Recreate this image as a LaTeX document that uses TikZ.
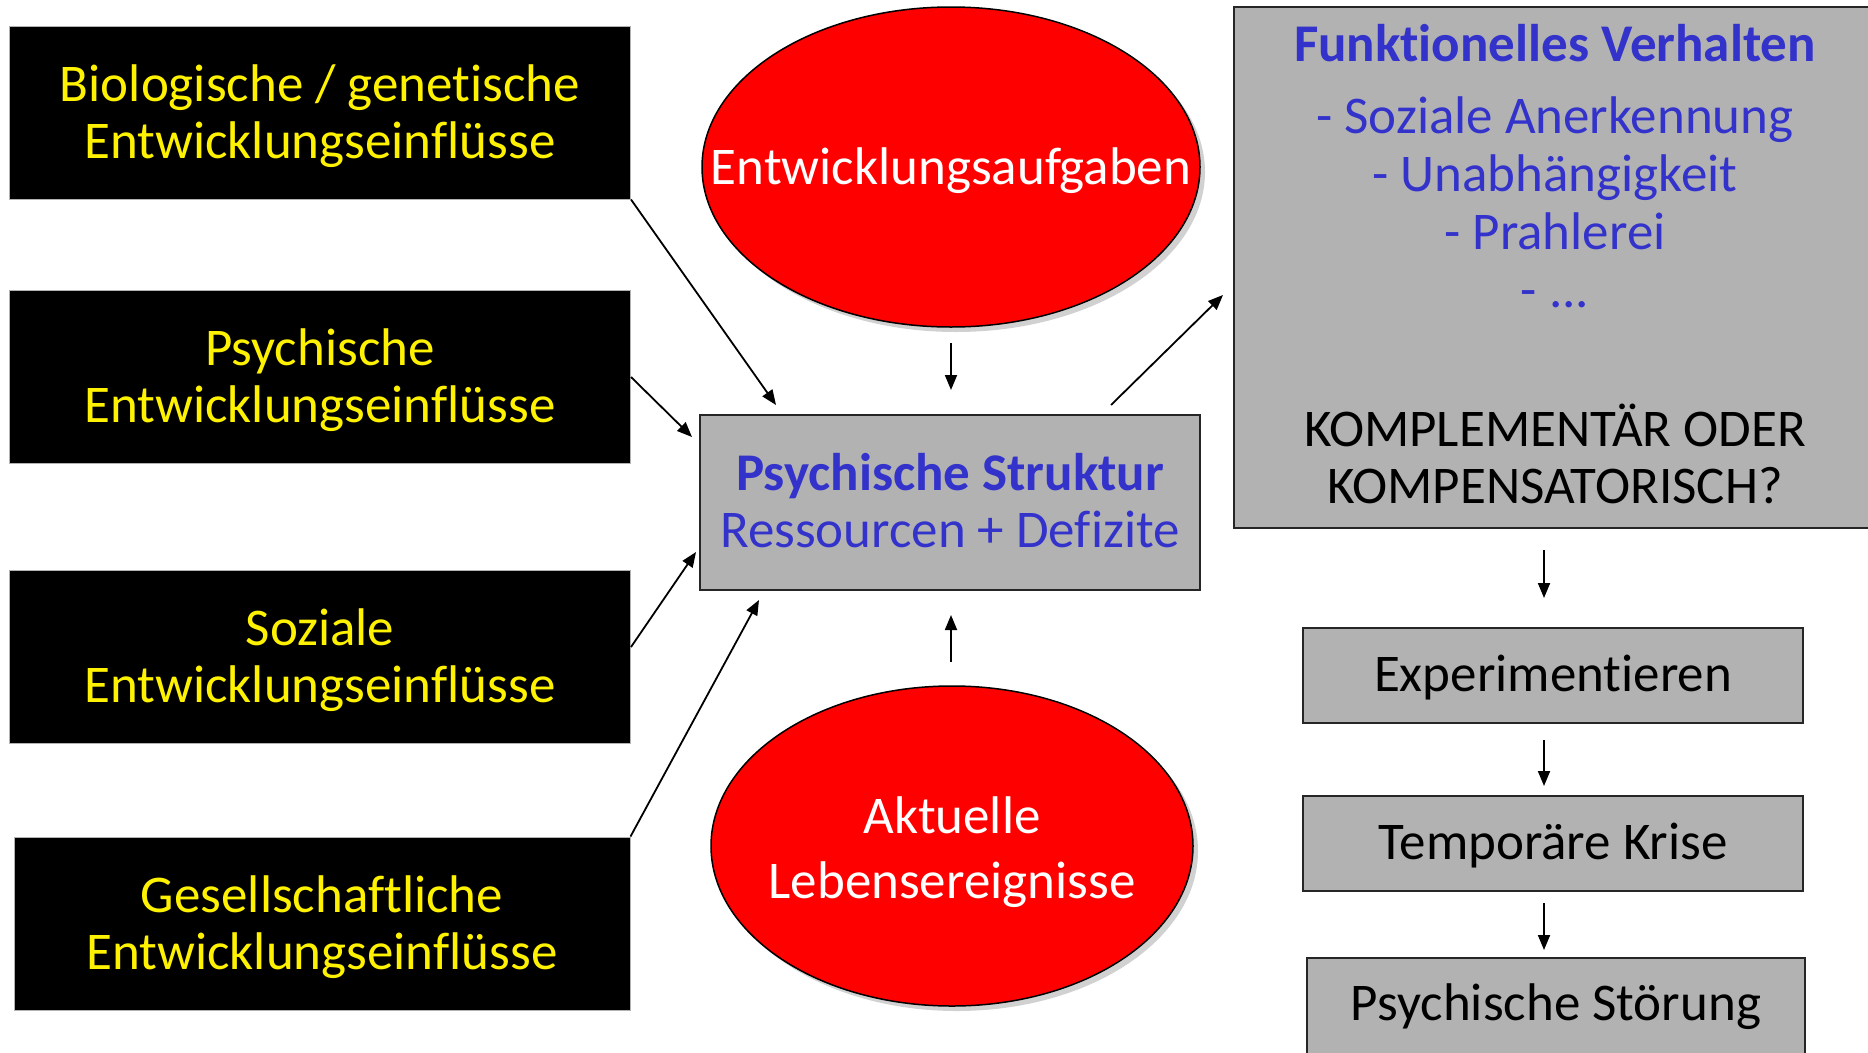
\documentclass[tikz,border=0pt]{standalone}
\usepackage{fontspec}
\setmainfont{Carlito}[Ligatures=NoCommon]
\usetikzlibrary{shapes.geometric,arrows.meta,shadows}
\definecolor{boxgray}{RGB}{178,178,178}
\definecolor{txtblue}{RGB}{51,51,204}
\newcommand{\nl}{\kern0pt }
\begin{document}
\begin{tikzpicture}[x=1pt,y=-1pt,
  infl/.style={draw=gray!60, line width=1pt, fill=black, minimum width=621pt, minimum height=173pt, inner sep=0pt},
  infltext/.style={text=yellow, align=center, inner sep=0pt, font=\fontsize{53}{57}\selectfont},
  ell/.style={ellipse, draw=black, line width=1.5pt, fill=red, inner sep=0pt, drop shadow={shadow xshift=5pt, shadow yshift=-5pt, fill=black!18, opacity=1}},
  elltext/.style={text=white, align=center, inner sep=0pt},
  gbox/.style={draw=black!85, line width=2pt, fill=boxgray, inner sep=0pt},
  gtext/.style={align=center, inner sep=0pt, font=\fontsize{53}{57}\selectfont},
  arr/.style={line width=1.8pt, -{Triangle[length=15pt,width=12pt]}},
]
\useasboundingbox (0,0) rectangle (1868,1052);

% left influence boxes
\node[infl] (b1) at (320,112.5) {};
\node[infl] (b2) at (320,377) {};
\node[infl] (b3) at (320,657) {};
\node[infl, minimum width=616pt] (b4) at (322,923.5) {};
\node[infltext] (b1t) at ([yshift=-3.5pt]b1.center) {Biologische / genetische\\Entwicklungseinflüsse};
\node[infltext] (b2t) at ([yshift=-3.5pt]b2.center) {Psychische\\Entwicklungseinflüsse};
\node[infltext] (b3t) at ([yshift=-3.5pt]b3.center) {Soziale\\Entwicklungseinflüsse};
\node[infltext] (b4t) at ([yshift=-3.5pt]b4.center) {Gesellschaftliche\\Entwicklungseinflüsse};

% ellipses
\node[ell, minimum width=498pt, minimum height=320pt] (e1) at (951,167) {};
\node[ell, minimum width=482pt, minimum height=320pt] (e2) at (952,846) {};
\node[elltext, font=\fontsize{53}{57}\selectfont] (e1t) at ([yshift=-3.5pt]e1.center) {Entwicklungsaufgaben};
\node[elltext, font=\fontsize{53}{65}\selectfont] (e2t) at ([yshift=-6pt]e2.center) {Aktuelle\\Lebensereignisse};

% central box
\node[gbox, minimum width=500pt, minimum height=175pt] (ps) at (950,502.5) {};
\node[gtext, text=txtblue] (pst) at ([yshift=2.4pt]ps.center) {\textbf{Psychische Struktur}\\Ressourcen + Defizite};

% right big box
\node[gbox, minimum width=642pt, minimum height=521pt] (fv) at (1555,267.5) {};
\node[text=txtblue, inner sep=0pt, font=\bfseries\fontsize{53}{57}\selectfont] (fvt) at (1555,43.5) {Funkt\nl ionelles Verhalten};
\node[text=txtblue, inner sep=0pt, align=center, font=\fontsize{53}{58}\selectfont] (fvl) at (1555,202.5) {- Soziale Anerkennung\\- Unabhängigkeit\\- Prahlerei\\- ...};
\node[gtext] (fvq) at (1555,454) {KOMPLEMENTÄR ODER\\KOMPENSATORISCH?};

% right chain
\node[gbox, minimum width=500pt, minimum height=95pt] (ex) at (1553,675.5) {};
\node[gbox, minimum width=500pt, minimum height=95pt] (tk) at (1553,843.5) {};
\node[gbox, minimum width=498pt, minimum height=96pt] (st) at (1556,1006) {};
\node[gtext] (ext) at ([yshift=-2.4pt]ex.center) {Experiment\nl ieren};
\node[gtext] (tkt) at ([yshift=-2.4pt]tk.center) {Temporäre Krise};
\node[gtext] (stt) at ([yshift=-0.5pt]st.center) {Psychische Störung};

% arrow end points
\coordinate (a1e) at (776,405);
\coordinate (a2e) at (692,437);
\coordinate (a3e) at (696,552);
\coordinate (a4e) at (759,600);
\coordinate (a5s) at (951,343);
\coordinate (a5e) at (951,390);
\coordinate (a6s) at (951,662);
\coordinate (a6e) at (951,615);
\coordinate (a7s) at (1111,405);
\coordinate (a7e) at (1223,295);
\coordinate (a8s) at (1544,550);
\coordinate (a8e) at (1544,598);
\coordinate (a9s) at (1544,740);
\coordinate (a9e) at (1544,786);
\coordinate (a10s) at (1544,903);
\coordinate (a10e) at (1544,950);

\draw[arr] (b1.south east) -- (a1e);
\draw[arr] (b2.east) -- (a2e);
\draw[arr] ([yshift=10pt]b3.east) -- (a3e);
\draw[arr] (b4.north east) -- (a4e);
\draw[arr] (a5s) -- (a5e);
\draw[arr] (a6s) -- (a6e);
\draw[arr] (a7s) -- (a7e);
\draw[arr] (a8s) -- (a8e);
\draw[arr] (a9s) -- (a9e);
\draw[arr] (a10s) -- (a10e);
\end{tikzpicture}
\end{document}
